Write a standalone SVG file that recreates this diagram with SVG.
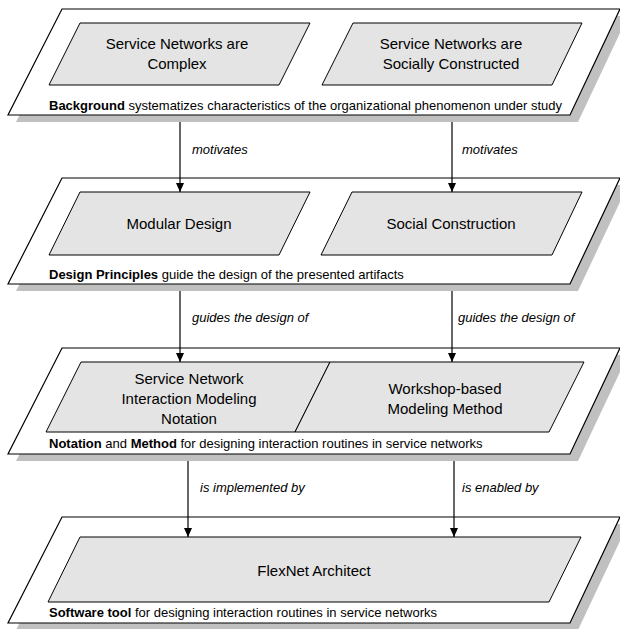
<svg xmlns="http://www.w3.org/2000/svg" width="620" height="629" viewBox="0 0 620 629">
  <style>
    .shadow { fill: #c0c0c0; stroke: none; }
    .layer { fill: #ffffff; stroke: #000000; stroke-width: 1.2; }
    .box { fill: #e4e4e4; stroke: #000000; stroke-width: 1; }
    .boxtext { font-family: "Liberation Sans", Arial, sans-serif; font-size: 15px; fill: #000000; text-anchor: middle; }
    .caption { font-family: "Liberation Sans", Arial, sans-serif; font-size: 13px; fill: #000000; }
    .caption .b { font-weight: bold; }
    .edgelabel { font-family: "Liberation Sans", Arial, sans-serif; font-size: 13px; font-style: italic; fill: #000000; }
    .edge { stroke: #000000; stroke-width: 1.2; fill: none; marker-end: url(#arrow); }
  </style>
  <defs>
    <marker id="arrow" markerUnits="userSpaceOnUse" markerWidth="10" markerHeight="10" refX="9" refY="4" orient="auto">
      <path d="M0,0 L9,4 L0,8 z" fill="#000000"/>
    </marker>
  </defs>

  <rect width="620" height="629" fill="#ffffff"/>

  <!-- Layer 1: Background -->
  <g id="layer-background">
    <polygon class="shadow" points="70,16 628,16 578,122 16,122"/>
    <polygon class="layer" points="62,9 620,9 570,115 8,115"/>
    <text class="caption" x="49" y="110"><tspan class="b">Background</tspan> systematizes characteristics of the organizational phenomenon under study</text>
  </g>
  <g id="node-complex">
    <polygon class="box" points="80,23 310,23 279,85 49,85"/>
    <text class="boxtext" x="177" y="49">Service Networks are</text>
    <text class="boxtext" x="177" y="69">Complex</text>
  </g>
  <g id="node-socially-constructed">
    <polygon class="box" points="353,23 582,23 552,85 322,85"/>
    <text class="boxtext" x="451" y="49">Service Networks are</text>
    <text class="boxtext" x="451" y="69">Socially Constructed</text>
  </g>

  <!-- Layer 2: Design Principles -->
  <g id="layer-design-principles">
    <polygon class="shadow" points="70,185 628,185 578,291 16,291"/>
    <polygon class="layer" points="62,178 620,178 570,284 8,284"/>
    <text class="caption" x="49" y="279"><tspan class="b">Design Principles</tspan> guide the design of the presented artifacts</text>
  </g>
  <g id="node-modular-design">
    <polygon class="box" points="80,192 310,192 279,255 49,255"/>
    <text class="boxtext" x="179" y="229">Modular Design</text>
  </g>
  <g id="node-social-construction">
    <polygon class="box" points="352,192 582,192 552,255 321,255"/>
    <text class="boxtext" x="451" y="229">Social Construction</text>
  </g>

  <!-- Layer 3: Notation and Method -->
  <g id="layer-notation-method">
    <polygon class="shadow" points="70,355 628,355 578,461 16,461"/>
    <polygon class="layer" points="62,348 620,348 570,454 8,454"/>
    <text class="caption" x="49" y="448"><tspan class="b">Notation</tspan> and <tspan class="b">Method</tspan> for designing interaction routines in service networks</text>
  </g>
  <g id="node-notation">
    <polygon class="box" points="81,362 330,362 295,432 46,432"/>
    <text class="boxtext" x="189" y="384">Service Network</text>
    <text class="boxtext" x="189" y="404">Interaction Modeling</text>
    <text class="boxtext" x="189" y="424">Notation</text>
  </g>
  <g id="node-method">
    <polygon class="box" points="330,362 584,362 549,432 295,432"/>
    <text class="boxtext" x="445" y="394">Workshop-based</text>
    <text class="boxtext" x="445" y="414">Modeling Method</text>
  </g>

  <!-- Layer 4: Software tool -->
  <g id="layer-software-tool">
    <polygon class="shadow" points="70,524 628,524 578,630 16,630"/>
    <polygon class="layer" points="62,517 620,517 570,623 8,623"/>
    <text class="caption" x="49" y="617"><tspan class="b">Software tool</tspan> for designing interaction routines in service networks</text>
  </g>
  <g id="node-flexnet-architect">
    <polygon class="box" points="80,537 581,537 549,602 48,602"/>
    <text class="boxtext" x="314" y="576">FlexNet Architect</text>
  </g>

  <!-- Connectors -->
  <g id="connectors">
    <line class="edge" x1="180" y1="122" x2="180" y2="192"/>
    <line class="edge" x1="452" y1="122" x2="452" y2="192"/>
    <line class="edge" x1="180" y1="291" x2="180" y2="362"/>
    <line class="edge" x1="452" y1="291" x2="452" y2="362"/>
    <line class="edge" x1="188" y1="461" x2="188" y2="537"/>
    <line class="edge" x1="454" y1="461" x2="454" y2="537"/>
    <text class="edgelabel" x="192" y="154">motivates</text>
    <text class="edgelabel" x="462" y="154">motivates</text>
    <text class="edgelabel" x="192" y="322">guides the design of</text>
    <text class="edgelabel" x="458" y="322">guides the design of</text>
    <text class="edgelabel" x="200" y="492">is implemented by</text>
    <text class="edgelabel" x="462" y="492">is enabled by</text>
  </g>
</svg>
